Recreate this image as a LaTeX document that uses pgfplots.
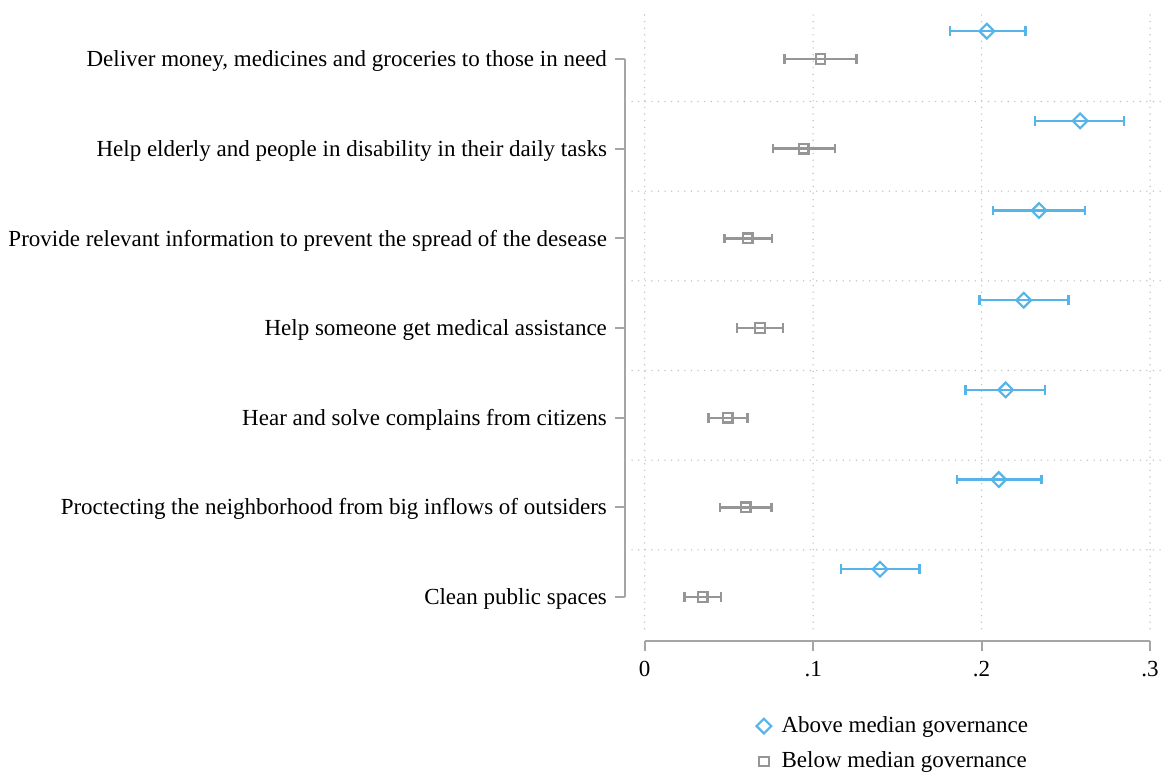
\documentclass[border=0pt]{standalone}
\usepackage{fontspec}
\setmainfont{Liberation Serif}
\usepackage{pgfplots}
\pgfplotsset{compat=1.18}
\usepackage{pgfplotstable}
\definecolor{sblue}{RGB}{86,180,233}
\definecolor{smark}{RGB}{150,150,150}
\definecolor{saxis}{RGB}{165,165,165}
\definecolor{sgrid}{RGB}{195,195,195}

% y = -category index (blue offset by +0.31)
\pgfplotstableread{
y x em ep
-0.69 0.2031 0.0220 0.0230
-1.69 0.2585 0.0267 0.0262
-2.69 0.2341 0.0275 0.0273
-3.69 0.2250 0.0263 0.0265
-4.69 0.2143 0.0239 0.0234
-5.69 0.2102 0.0248 0.0253
-6.69 0.1397 0.0231 0.0234
}\above
\pgfplotstableread{
y x em ep
-1 0.1044 0.0213 0.0213
-2 0.0944 0.0181 0.0185
-3 0.0612 0.0139 0.0144
-4 0.0685 0.0137 0.0136
-5 0.0493 0.0115 0.0117
-6 0.0600 0.0153 0.0152
-7 0.0344 0.0107 0.0109
}\below

\begin{document}
\fontsize{11.5}{13.8}\selectfont
\begin{tikzpicture}
\path[use as bounding box] (-312.5pt,-66.5pt) rectangle (269.5pt,320.5pt);
\begin{axis}[
  at={(0,0)}, anchor=south west,
  scale only axis, width=268.5pt, height=313pt,
  xmin=-0.0117, xmax=0.3071, ymin=-7.49, ymax=-0.509,
  axis lines*=left, axis line style={draw=none},
  xtick={0,0.1,0.2,0.3}, xticklabels={0,.1,.2,.3},
  ytick={-7,-6,-5,-4,-3,-2,-1},
  yticklabels={
    {Clean public spaces},
    {Proctecting the neighborhood from big inflows of outsiders},
    {Hear and solve complains from citizens},
    {Help someone get medical assistance},
    {Provide relevant information to prevent the spread of the desease},
    {Help elderly and people in disability in their daily tasks},
    {Deliver money, medicines and groceries to those in need}},
  tick align=outside, major tick length=5pt,
  tick style={saxis, line width=1pt},
  xticklabel style={yshift=-1pt},
  yticklabel style={yshift=-1pt},
  clip=false,
  legend style={draw=none, fill=none, at={(0,0)}, anchor=north west,
    xshift=62pt, yshift=-33.5pt, row sep=4pt},
  legend cell align=left,
  legend image code/.code={%
    \path[draw=none, fill=none] (-0.15cm,0cm) -- (0.24cm,0cm);
    \draw[#1] plot coordinates {(0cm,0cm)};},
]
% background grid
\pgfplotsinvokeforeach{0,0.1,0.2,0.3}{
  \draw[sgrid, line width=0.8pt, line cap=round, dash pattern=on 0pt off 3.3pt]
    (axis cs:#1,-0.509) -- (axis cs:#1,-7.40);
}
\pgfplotsinvokeforeach{1.474,2.474,3.474,4.474,5.474,6.474}{
  \draw[sgrid, line width=0.8pt, line cap=round, dash pattern=on 0pt off 3.3pt]
    (axis cs:-0.0075,-#1) -- (axis cs:0.3071,-#1);
}
% axis lines
\draw[saxis, line width=1pt] (axis cs:0,-7.49) -- (axis cs:0.3,-7.49);
\draw[saxis, line width=1pt] (axis cs:-0.0117,-1) -- (axis cs:-0.0117,-7);

\addplot[only marks, sblue, mark=square, mark size=2.6pt,
  mark options={rotate=45, line width=1.1pt},
  error bars/.cd, x dir=both, x explicit, error mark=|,
  error bar style={line width=1.2pt, sblue},
  error mark options={line width=1.2pt, mark size=2.4pt, sblue}]
  table[x=x, y=y, x error minus=em, x error plus=ep] {\above};
\addlegendentry{Above median governance}
\addplot[only marks, smark, mark=square, mark size=2.4pt,
  mark options={line width=1.1pt},
  error bars/.cd, x dir=both, x explicit, error mark=|,
  error bar style={line width=1.2pt, smark},
  error mark options={line width=1.2pt, mark size=2.4pt, smark}]
  table[x=x, y=y, x error minus=em, x error plus=ep] {\below};
\addlegendentry{Below median governance}
\end{axis}
\end{tikzpicture}
\end{document}
